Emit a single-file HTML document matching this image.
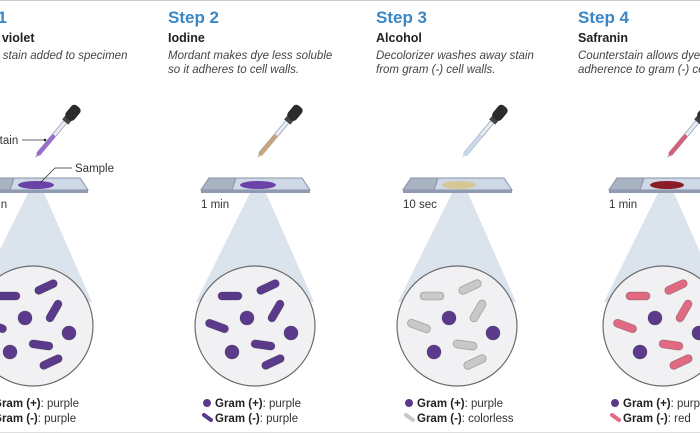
<!DOCTYPE html>
<html><head><meta charset="utf-8"><style>
html,body{margin:0;padding:0;background:#fff;}
svg{display:block;font-family:"Liberation Sans",sans-serif;}
</style></head><body>
<svg width="700" height="433" viewBox="0 0 700 433" xmlns="http://www.w3.org/2000/svg">
<defs>
  <g id="dropper">
    <rect x="-2" y="-48" width="4" height="44" rx="2" fill="#e8edf4" stroke="#9aa4b2" stroke-width="0.8"/>
    <rect x="-2" y="-30" width="4" height="26" rx="2" fill="currentColor"/>
    <path d="M-1,-5 L0,0 L1,-5 Z" fill="currentColor"/>
    <rect x="-4" y="-52" width="8" height="5" fill="#444"/>
    <rect x="-5.5" y="-67" width="11" height="16" rx="4" fill="#2b2b2b"/>
  </g>
  <g id="rods" stroke="rgba(0,0,0,0.25)" stroke-width="0.8">
    <rect x="-12" y="-4" width="24" height="8" rx="4" transform="translate(-25,-30)"/>
    <rect x="-12" y="-4" width="24" height="8" rx="4" transform="translate(13,-39) rotate(-25)"/>
    <rect x="-12" y="-4" width="24" height="8" rx="4" transform="translate(21,-15) rotate(-60)"/>
    <rect x="-12" y="-4" width="24" height="8" rx="4" transform="translate(-38,0) rotate(20)"/>
    <rect x="-12" y="-4" width="24" height="8" rx="4" transform="translate(8,19) rotate(8)"/>
    <rect x="-12" y="-4" width="24" height="8" rx="4" transform="translate(18,36) rotate(-25)"/>
  </g>
  <g id="dots" stroke="rgba(0,0,0,0.25)" stroke-width="0.8">
    <circle cx="-8" cy="-8" r="7"/>
    <circle cx="36" cy="7" r="7"/>
    <circle cx="-23" cy="26" r="7"/>
  </g>
  <g id="base">
    <polygon points="250,193 266,193 314,302 196,302" fill="#dbe3ec"/>
    <polygon points="209,178 302,178 310,190 201,190" fill="#cfd8e6" stroke="#8793a6" stroke-width="1"/>
    <polygon points="209,178 236,178 232,190 201,190" fill="#a9b3c4" stroke="#8793a6" stroke-width="1"/>
    <rect x="201" y="190" width="109" height="3" fill="#8f9bb0"/>
    <circle cx="255" cy="326" r="60" fill="#f1f1f3" stroke="#6b6b6b" stroke-width="1.2"/>
  </g>
</defs>
<line x1="0" y1="0.5" x2="700" y2="0.5" stroke="#ccc"/>
<line x1="0" y1="432.5" x2="700" y2="432.5" stroke="#ddd"/>

<!-- Step 1 -->
<g transform="translate(-222,0)">
  <text x="178" y="23" font-size="17" font-weight="bold" fill="#3a87c8">Step 1</text>
  <text x="178" y="42" font-size="12.5" font-weight="bold" fill="#222">Crystal violet</text>
  <text x="182" y="59" font-size="11.5" font-style="italic" fill="#444">Primary stain added to specimen</text>
  <use href="#base"/>
  <ellipse cx="258" cy="185" rx="18" ry="4" fill="#6a42a8"/>
  <use href="#dropper" style="color:#9a6cd0" transform="translate(257,158) rotate(40)"/>
  <text x="214" y="144" font-size="11.5" fill="#333">Stain</text>
  <line x1="244" y1="140" x2="267" y2="140" stroke="#333" stroke-width="0.8"/>
  <circle cx="267" cy="140" r="1.3" fill="#222"/>
  <text x="297" y="172" font-size="11.5" fill="#333">Sample</text>
  <polyline points="294,168 277,168 262,183" fill="none" stroke="#333" stroke-width="0.8"/>
  <text x="201" y="208" font-size="11.5" fill="#333">1 min</text>
  <use href="#rods" fill="#5b3a8c" transform="translate(255,326)"/>
  <use href="#dots" fill="#5b3a8c" transform="translate(255,326)"/>
  <circle cx="207" cy="403" r="4" fill="#5b3a8c"/>
  <text x="215" y="407" font-size="11.5" fill="#333"><tspan font-weight="bold" fill="#222">Gram (+)</tspan>: purple</text>
  <line x1="204" y1="415" x2="211" y2="420" stroke="#5b3a8c" stroke-width="4" stroke-linecap="round"/>
  <text x="215" y="422" font-size="11.5" fill="#333"><tspan font-weight="bold" fill="#222">Gram (-)</tspan>: purple</text>
</g>

<!-- Step 2 -->
<g>
  <text x="168" y="23" font-size="17" font-weight="bold" fill="#3a87c8">Step 2</text>
  <text x="168" y="42" font-size="12.5" font-weight="bold" fill="#222">Iodine</text>
  <text x="168" y="59" font-size="11.5" font-style="italic" fill="#444">Mordant makes dye less soluble</text>
  <text x="168" y="73" font-size="11.5" font-style="italic" fill="#444">so it adheres to cell walls.</text>
  <use href="#base"/>
  <ellipse cx="258" cy="185" rx="18" ry="4" fill="#6a42a8"/>
  <use href="#dropper" style="color:#c9a37a" transform="translate(257,158) rotate(40)"/>
  <text x="201" y="208" font-size="11.5" fill="#333">1 min</text>
  <use href="#rods" fill="#5b3a8c" transform="translate(255,326)"/>
  <use href="#dots" fill="#5b3a8c" transform="translate(255,326)"/>
  <circle cx="207" cy="403" r="4" fill="#5b3a8c"/>
  <text x="215" y="407" font-size="11.5" fill="#333"><tspan font-weight="bold" fill="#222">Gram (+)</tspan>: purple</text>
  <line x1="204" y1="415" x2="211" y2="420" stroke="#5b3a8c" stroke-width="4" stroke-linecap="round"/>
  <text x="215" y="422" font-size="11.5" fill="#333"><tspan font-weight="bold" fill="#222">Gram (-)</tspan>: purple</text>
</g>

<!-- Step 3 -->
<g transform="translate(202,0)">
  <text x="174" y="23" font-size="17" font-weight="bold" fill="#3a87c8">Step 3</text>
  <text x="174" y="42" font-size="12.5" font-weight="bold" fill="#222">Alcohol</text>
  <text x="174" y="59" font-size="11.5" font-style="italic" fill="#444">Decolorizer washes away stain</text>
  <text x="174" y="73" font-size="11.5" font-style="italic" fill="#444">from gram (-) cell walls.</text>
  <use href="#base"/>
  <ellipse cx="257" cy="185" rx="17" ry="4" fill="#d6c796"/>
  <use href="#dropper" style="color:#c9d6ec" transform="translate(260,158) rotate(40)"/>
  <text x="201" y="208" font-size="11.5" fill="#333">10 sec</text>
  <use href="#rods" fill="#c8c8c8" transform="translate(255,326)"/>
  <use href="#dots" fill="#5b3a8c" transform="translate(255,326)"/>
  <circle cx="207" cy="403" r="4" fill="#5b3a8c"/>
  <text x="215" y="407" font-size="11.5" fill="#333"><tspan font-weight="bold" fill="#222">Gram (+)</tspan>: purple</text>
  <line x1="204" y1="415" x2="211" y2="420" stroke="#c8c8c8" stroke-width="4" stroke-linecap="round"/>
  <text x="215" y="422" font-size="11.5" fill="#333"><tspan font-weight="bold" fill="#222">Gram (-)</tspan>: colorless</text>
</g>

<!-- Step 4 -->
<g transform="translate(408,0)">
  <text x="170" y="23" font-size="17" font-weight="bold" fill="#3a87c8">Step 4</text>
  <text x="170" y="42" font-size="12.5" font-weight="bold" fill="#222">Safranin</text>
  <text x="170" y="59" font-size="11.5" font-style="italic" fill="#444">Counterstain allows dye</text>
  <text x="170" y="73" font-size="11.5" font-style="italic" fill="#444">adherence to gram (-) cells.</text>
  <use href="#base"/>
  <ellipse cx="259" cy="185" rx="17" ry="4" fill="#8a1c25"/>
  <use href="#dropper" style="color:#d5607e" transform="translate(259,158) rotate(40)"/>
  <text x="201" y="208" font-size="11.5" fill="#333">1 min</text>
  <use href="#rods" fill="#e06a82" transform="translate(255,326)"/>
  <use href="#dots" fill="#5b3a8c" transform="translate(255,326)"/>
  <circle cx="207" cy="403" r="4" fill="#5b3a8c"/>
  <text x="215" y="407" font-size="11.5" fill="#333"><tspan font-weight="bold" fill="#222">Gram (+)</tspan>: purple</text>
  <line x1="204" y1="415" x2="211" y2="420" stroke="#e06a82" stroke-width="4" stroke-linecap="round"/>
  <text x="215" y="422" font-size="11.5" fill="#333"><tspan font-weight="bold" fill="#222">Gram (-)</tspan>: red</text>
</g>
</svg>
</body></html>
